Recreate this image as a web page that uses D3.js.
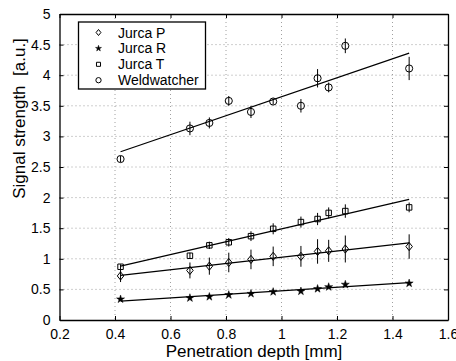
<!DOCTYPE html>
<html>
<head>
<meta charset="utf-8">
<script src="https://cdn.jsdelivr.net/npm/d3@7"></script>
<style>
  body { margin: 0; background: #fff; }
  svg { font-family: "Liberation Sans", Arial, Helvetica, sans-serif; }
</style>
</head>
<body>
<div id="chart"></div>
<script>
// values
var depth = [0.42, 0.67, 0.74, 0.81, 0.89, 0.97, 1.07, 1.13, 1.17, 1.23, 1.46];

var jurcaP    = [0.72, 0.81, 0.88, 0.94, 0.99, 1.04, 1.04, 1.12, 1.13, 1.16, 1.20];
var jurcaPErr = [0.10, 0.13, 0.14, 0.16, 0.16, 0.16, 0.17, 0.20, 0.18, 0.22, 0.20];
var jurcaR    = [0.34, 0.36, 0.38, 0.41, 0.43, 0.46, 0.47, 0.51, 0.54, 0.58, 0.60];
var jurcaRErr = [0.02, 0.02, 0.02, 0.02, 0.02, 0.02, 0.02, 0.02, 0.02, 0.02, 0.02];
var jurcaT    = [0.87, 1.05, 1.22, 1.27, 1.37, 1.49, 1.60, 1.65, 1.75, 1.78, 1.84];
var jurcaTErr = [0.04, 0.05, 0.06, 0.07, 0.08, 0.09, 0.09, 0.10, 0.09, 0.11, 0.08];
var weld      = [2.63, 3.13, 3.22, 3.58, 3.40, 3.57, 3.50, 3.95, 3.80, 4.48, 4.11];
var weldErr   = [0.05, 0.11, 0.09, 0.08, 0.10, 0.05, 0.11, 0.15, 0.08, 0.12, 0.19];

// fitted lines, end points
var fitX    = [0.42, 1.46];
var fitP    = [0.73, 1.26];
var fitR    = [0.31, 0.61];
var fitT    = [0.88, 1.97];
var fitWeld = [2.75, 4.36];

var xTicks = [0.2, 0.4, 0.6, 0.8, 1, 1.2, 1.4, 1.6];
var yTicks = [0, 0.5, 1, 1.5, 2, 2.5, 3, 3.5, 4, 4.5, 5];

var series = [
    {name: 'Jurca P', y: jurcaP, err: jurcaPErr, fit: fitP, sym: 'diamond'},
    {name: 'Jurca R', y: jurcaR, err: jurcaRErr, fit: fitR, sym: 'star'},
    {name: 'Jurca T', y: jurcaT, err: jurcaTErr, fit: fitT, sym: 'square'},
    {name: 'Weldwatcher', y: weld, err: weldErr, fit: fitWeld, sym: 'circle'}
];

var W = 456, H = 361;
var margin = {top: 14, right: 8, bottom: 41, left: 59.5};
var width = W - margin.left - margin.right,
    height = H - margin.top - margin.bottom;

var svg = d3.select('#chart').append('svg')
    .attr('width', W)
    .attr('height', H);

var g = svg.append('g')
    .attr('transform', 'translate(' + margin.left + ',' + margin.top + ')');

var x = d3.scaleLinear().domain([0.2, 1.6]).range([0, width]);
var y = d3.scaleLinear().domain([0, 5]).range([height, 0]);

// dotted grid
g.append('g').selectAll('line')
    .data(xTicks.slice(1, -1))
    .enter().append('line')
    .attr('x1', d => x(d)).attr('x2', d => x(d))
    .attr('y1', 0).attr('y2', height)
    .attr('stroke', '#888').attr('stroke-width', 0.8)
    .attr('stroke-dasharray', '1,3');
g.append('g').selectAll('line')
    .data(yTicks.slice(1, -1))
    .enter().append('line')
    .attr('y1', d => y(d)).attr('y2', d => y(d))
    .attr('x1', 0).attr('x2', width)
    .attr('stroke', '#888').attr('stroke-width', 0.8)
    .attr('stroke-dasharray', '1,3');

// axes, ticks pointing inward
var fmt = d3.format('~g');
var axB = g.append('g').attr('transform', 'translate(0,' + height + ')')
    .call(d3.axisBottom(x).tickValues(xTicks).tickSizeInner(-4).tickSizeOuter(0).tickPadding(9).tickFormat(fmt));
var axT = g.append('g')
    .call(d3.axisTop(x).tickValues(xTicks).tickSizeInner(-4).tickSizeOuter(0).tickFormat(''));
var axL = g.append('g')
    .call(d3.axisLeft(y).tickValues(yTicks).tickSizeInner(-4).tickSizeOuter(0).tickPadding(9).tickFormat(fmt));
var axR = g.append('g').attr('transform', 'translate(' + width + ',0)')
    .call(d3.axisRight(y).tickValues(yTicks).tickSizeInner(-4).tickSizeOuter(0).tickFormat(''));

[axB, axT, axL, axR].forEach(function(a) {
    a.selectAll('path').attr('stroke', '#000').attr('stroke-width', 1.3);
    a.selectAll('line').attr('stroke', '#000');
    a.selectAll('text').attr('fill', '#000').attr('font-size', '14px')
        .attr('font-family', '"Liberation Sans", Arial, sans-serif');
});
axB.selectAll('text').attr('dy', '0.71em');

// fit lines
var line = d3.line().x(d => x(d[0])).y(d => y(d[1]));
g.append('g').selectAll('path')
    .data(series)
    .enter().append('path')
    .attr('fill', 'none')
    .attr('stroke', '#000')
    .attr('stroke-width', 1.2)
    .attr('d', s => line(fitX.map((v, i) => [v, s.fit[i]])));

// error bars
series.forEach(function(s) {
    g.append('g').selectAll('line')
        .data(depth)
        .enter().append('line')
        .attr('x1', d => x(d)).attr('x2', d => x(d))
        .attr('y1', (d, i) => y(s.y[i] - s.err[i]))
        .attr('y2', (d, i) => y(s.y[i] + s.err[i]))
        .attr('stroke', '#000').attr('stroke-width', 1);
});

// markers (matlab-like diamond is wider than d3's)
var wideDiamond = {
    draw: function(ctx, size) {
        var h = Math.sqrt(size) * 0.8, w = h * 0.8;
        ctx.moveTo(0, -h); ctx.lineTo(w, 0); ctx.lineTo(0, h); ctx.lineTo(-w, 0); ctx.closePath();
    }
};
var symType = {diamond: wideDiamond, star: d3.symbolStar, square: d3.symbolSquare, circle: d3.symbolCircle};
var symSize = {diamond: 26, star: 20, square: 30, circle: 40};
function marker(sel, sym, scale) {
    sel.attr('d', d3.symbol().type(symType[sym]).size(symSize[sym] * scale))
        .attr('fill', sym === 'star' ? '#000' : 'none')
        .attr('stroke', '#000')
        .attr('stroke-width', sym === 'star' ? 0.5 : 1);
}
series.forEach(function(s) {
    g.append('g').selectAll('path')
        .data(depth)
        .enter().append('path')
        .attr('transform', (d, i) => 'translate(' + x(d) + ',' + y(s.y[i]) + ')')
        .call(marker, s.sym, 1);
});

// legend
var leg = svg.append('g').attr('transform', 'translate(78.5,22)');
leg.append('rect')
    .attr('width', 127).attr('height', 67)
    .attr('fill', '#fff').attr('stroke', '#000').attr('stroke-width', 1.3);
var item = leg.selectAll('.item')
    .data(series)
    .enter().append('g')
    .attr('class', 'item')
    .attr('transform', (d, i) => 'translate(0,' + (10.5 + i * 15.9) + ')');
item.append('path')
    .attr('transform', 'translate(20,0)')
    .each(function(d) { d3.select(this).call(marker, d.sym, 0.55); });
item.append('text')
    .attr('x', 39.5).attr('dy', '0.36em')
    .attr('font-size', '14px')
    .text(d => d.name);

// axis titles
svg.append('text')
    .attr('x', 254).attr('y', 356.5)
    .attr('text-anchor', 'middle')
    .attr('font-size', '17px')
    .text('Penetration depth [mm]');
svg.append('text')
    .attr('transform', 'translate(24.5,118.5) rotate(-90)')
    .attr('text-anchor', 'middle')
    .attr('font-size', '17px')
    .style('white-space', 'pre')
    .text('Signal strength  [a.u.]');
</script>
</body>
</html>
